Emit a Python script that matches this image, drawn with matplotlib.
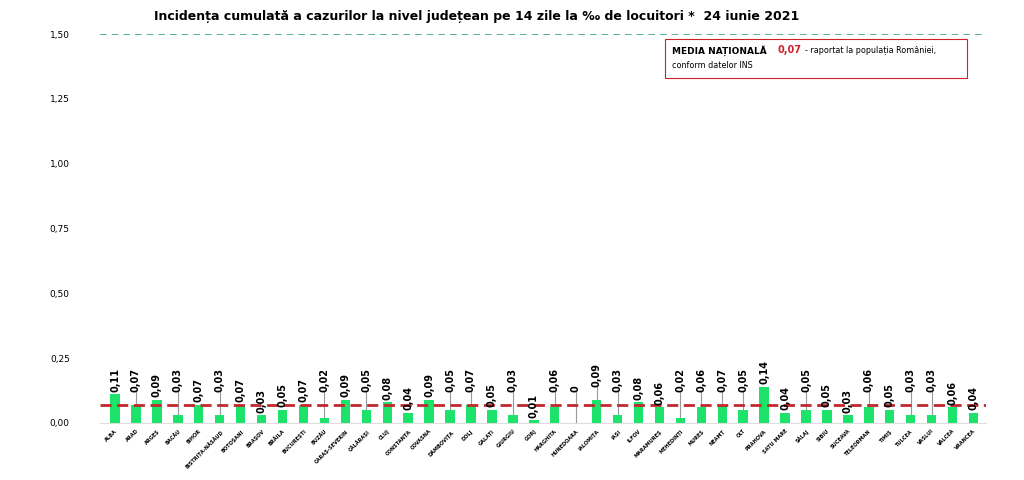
import matplotlib.pyplot as plt

judete = ['ALBA', 'ARAD', 'ARGEȘ', 'BACĂU', 'BIHOR', 'BISTRIȚA-NĂSĂUD', 'BOTOȘANI', 'BRAȘOV',
          'BRĂILA', 'BUCUREȘTI', 'BUZĂU', 'CARAȘ-SEVERIN', 'CĂLĂRAȘI', 'CLUJ', 'CONSTANȚA',
          'COVASNA', 'DÂMBOVIȚA', 'DOLJ', 'GALAȚI', 'GIURGIU', 'GORJ', 'HARGHITA', 'HUNEDOARA',
          'IALOMIȚA', 'IAȘI', 'ILFOV', 'MARAMUREȘ', 'MEHEDINȚI', 'MUREȘ', 'NEAMȚ', 'OLT',
          'PRAHOVA', 'SATU MARE', 'SĂLAJ', 'SIBIU', 'SUCEAVA', 'TELEORMAN', 'TIMIȘ', 'TULCEA',
          'VASLUI', 'VÂLCEA', 'VRANCEA']
valori = [0.11, 0.07, 0.09, 0.03, 0.07, 0.03, 0.07, 0.03, 0.05, 0.07, 0.02, 0.09, 0.05, 0.08,
          0.04, 0.09, 0.05, 0.07, 0.05, 0.03, 0.01, 0.06, 0, 0.09, 0.03, 0.08, 0.06, 0.02, 0.06,
          0.07, 0.05, 0.14, 0.04, 0.05, 0.05, 0.03, 0.06, 0.05, 0.03, 0.03, 0.06, 0.04]
# etichete ridicate (cu linie de legatura)
ridicate = ['ARAD', 'BACĂU', 'BISTRIȚA-NĂSĂUD', 'BUZĂU', 'CĂLĂRAȘI', 'DÂMBOVIȚA', 'DOLJ',
            'GIURGIU', 'HARGHITA', 'HUNEDOARA', 'IALOMIȚA', 'IAȘI', 'MEHEDINȚI', 'MUREȘ', 'NEAMȚ',
            'OLT', 'SĂLAJ', 'TELEORMAN', 'TULCEA', 'VASLUI']
media = 0.07

fig = plt.figure(figsize=(10.24, 4.8), dpi=100)
ax = fig.add_axes([0.098, 0.119, 0.865, 0.81])
x = list(range(len(judete)))
ax.bar(x, valori, width=0.45, color='#1ee36a', zorder=2)
ax.axhline(media, color='#c0282d', linestyle=(0, (4, 2)), linewidth=2, zorder=3)
ax.axhline(1.5, color='#3aa384', linestyle=(0, (4, 3)), linewidth=1.2)

for i, (j, v) in enumerate(zip(judete, valori)):
    txt = f'{v:.2f}'.replace('.', ',') if v > 0 else '0'
    if j in ridicate:
        ty = max(v, 0.07) + 0.05
        ax.plot([i, i], [v, ty], color='#999999', linewidth=0.8, zorder=1)
    else:
        ty = v + 0.01
    ax.text(i, ty, txt, rotation=90, ha='center', va='bottom', fontsize=7, fontweight='bold')

ax.set_xlim(-0.7, len(judete) - 0.4)
ax.set_ylim(0, 1.5)
ax.set_yticks([0, 0.25, 0.5, 0.75, 1.0, 1.25, 1.5])
ax.set_yticklabels(['0,00', '0,25', '0,50', '0,75', '1,00', '1,25', '1,50'], fontsize=6.5)
ax.set_xticks(x)
ax.set_xticklabels(judete, rotation=45, ha='right', rotation_mode='anchor', fontsize=3.6,
                   fontweight='bold')
ax.tick_params(axis='x', length=0, pad=4)
ax.tick_params(axis='y', length=0, pad=22)
for s in ['top', 'right', 'left']:
    ax.spines[s].set_visible(False)
ax.spines['bottom'].set_color('#dddddd')

fig.text(0.465, 0.965, 'Incidența cumulată a cazurilor la nivel județean pe 14 zile la ‰ de locuitori *  24 iunie 2021',
         ha='center', va='center', fontsize=9, fontweight='bold')
ax.text(0.645, 0.958, 'MEDIA NAȚIONALĂ', transform=ax.transAxes, fontsize=6.5, fontweight='bold', va='center')
ax.text(0.765, 0.958, '0,07', transform=ax.transAxes, fontsize=7, fontweight='bold', color='#d0202a', va='center')
ax.text(0.795, 0.958, '- raportat la populația României,', transform=ax.transAxes, fontsize=5.8, va='center')
ax.text(0.645, 0.918, 'conform datelor INS', transform=ax.transAxes, fontsize=5.8, va='center')
box = plt.Rectangle((0.638, 0.887), 0.34, 0.1, transform=ax.transAxes, fill=False,
                    edgecolor='#d0202a', linewidth=0.8)
ax.add_patch(box)

fig.savefig('out.png', dpi=100)
